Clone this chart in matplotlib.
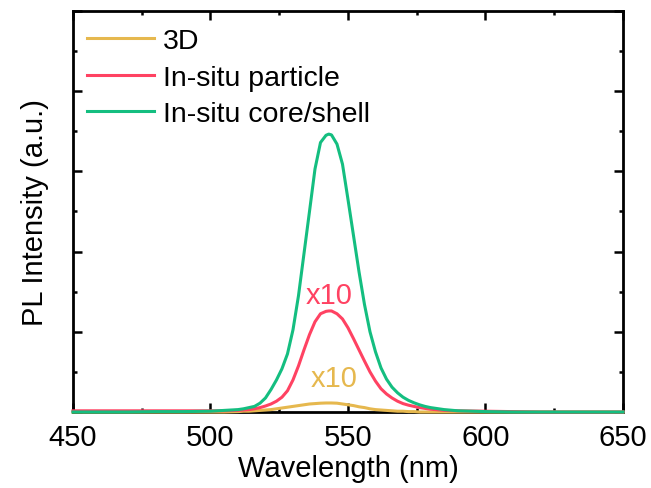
import matplotlib
matplotlib.use("Agg")
import matplotlib.pyplot as plt
from matplotlib.ticker import MultipleLocator

plt.rcParams['font.family'] = ['Liberation Sans', 'DejaVu Sans']

# wavelength grid (nm) and values (axis units, 0..1)
wavelength = [450, 460, 470, 480, 490, 500, 505,
              510, 512, 514, 516, 518, 520, 522, 524, 526, 528, 530, 532, 534, 536, 538, 540, 542,
              543,
              544, 546, 548, 550, 552, 554, 556, 558, 560, 562, 564, 566, 568, 570, 572, 574, 576, 578, 580,
              585, 590, 600, 610, 620, 635, 650]
pl_3d = [0, 0, 0, 0, 0, 0, 0,
         0.001, 0.002, 0.002, 0.003, 0.004, 0.005, 0.006, 0.008, 0.010, 0.012, 0.014, 0.016, 0.018, 0.020, 0.021, 0.022, 0.0225,
         0.0225,
         0.0225, 0.022, 0.020, 0.018, 0.016, 0.013, 0.011, 0.008, 0.006, 0.005, 0.004, 0.003, 0.002, 0.002, 0.001, 0.001, 0, 0, 0,
         0, 0, 0, 0, 0, 0, 0]
pl_particle = [0.003, 0.003, 0.003, 0.003, 0.003, 0.003, 0.003,
               0.004, 0.005, 0.006, 0.008, 0.011, 0.015, 0.020, 0.027, 0.037, 0.053, 0.080, 0.115, 0.155, 0.193, 0.225, 0.245, 0.251,
               0.252,
               0.252, 0.245, 0.232, 0.210, 0.183, 0.155, 0.127, 0.100, 0.077, 0.058, 0.045, 0.035, 0.027, 0.021, 0.017, 0.014, 0.011, 0.009, 0.007,
               0.004, 0.003, 0.002, 0.001, 0, 0, 0]
pl_core_shell = [0, 0, 0, 0.001, 0.001, 0.002, 0.004,
                 0.006, 0.008, 0.011, 0.014, 0.022, 0.035, 0.056, 0.080, 0.108, 0.145, 0.205, 0.290, 0.395, 0.500, 0.606, 0.672, 0.690,
                 0.693,
                 0.691, 0.668, 0.618, 0.530, 0.440, 0.350, 0.268, 0.200, 0.150, 0.110, 0.082, 0.062, 0.048, 0.037, 0.029, 0.023, 0.018, 0.014, 0.011,
                 0.006, 0.003, 0.001, 0, 0, 0, 0]

series = [("3D", pl_3d, "#E6B84E"),
          ("In-situ particle", pl_particle, "#FF4262"),
          ("In-situ core/shell", pl_core_shell, "#14BE80")]

fig = plt.figure(figsize=(6.51, 4.89), dpi=100)
ax = fig.add_axes([0.1121, 0.1554, 0.8449, 0.8201])

for name, vals, col in series:
    ax.plot(wavelength, vals, color=col, lw=2.2, label=name, zorder=5,
            clip_on=False, solid_joinstyle="round")

# scale factor notes
ax.text(543, 0.292, "x10", color="#FF4262", fontsize=21, ha="center", va="center")
ax.text(545, 0.085, "x10", color="#E6B84E", fontsize=21, ha="center", va="center")

ax.set_xlim(450, 650)
ax.set_ylim(0, 1)
ax.xaxis.set_major_locator(MultipleLocator(50))
ax.xaxis.set_minor_locator(MultipleLocator(25))
ax.yaxis.set_major_locator(MultipleLocator(0.2))
ax.yaxis.set_minor_locator(MultipleLocator(0.1))
ax.tick_params(which="both", direction="in", top=True, right=True, width=1.8)
ax.tick_params(which="major", length=6.5, labelsize=21, pad=8)
ax.tick_params(which="minor", length=3)
ax.tick_params(axis="y", labelleft=False)
for s in ax.spines.values():
    s.set_linewidth(2)

ax.set_xlabel("Wavelength (nm)", fontsize=21, labelpad=2)
ax.set_ylabel("PL Intensity (a.u.)", fontsize=21, labelpad=14)

ax.legend(loc="upper left", frameon=False, fontsize=20.5, handlelength=2.35,
          handletextpad=0.3, labelspacing=0.38, borderaxespad=0.15,
          borderpad=0.3, bbox_to_anchor=(0.003, 0.99))

fig.savefig("out.png", dpi=100)
